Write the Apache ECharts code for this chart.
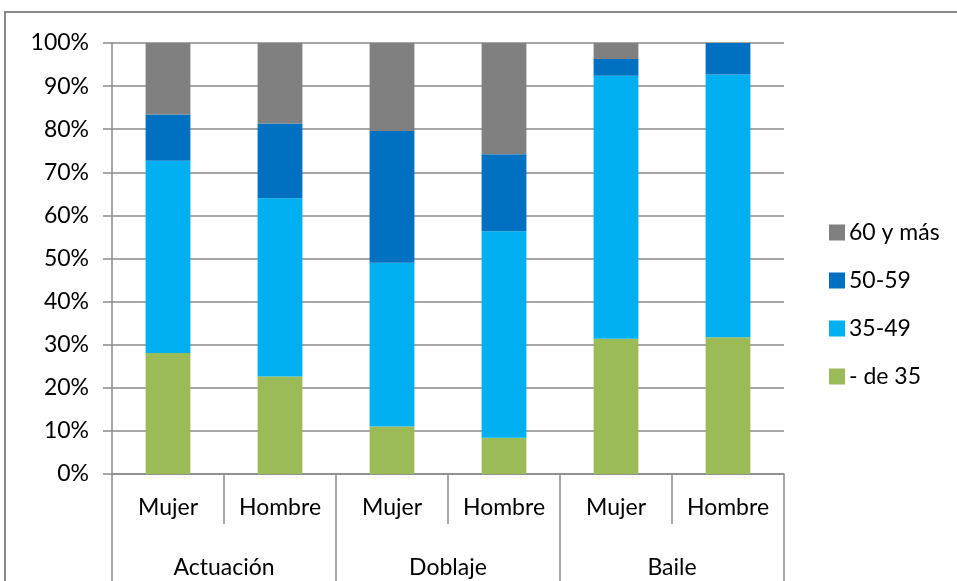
<!DOCTYPE html>
<html>
<head>
<meta charset="utf-8">
<script src="https://cdn.jsdelivr.net/npm/echarts@6/dist/echarts.min.js"></script>
<style>
html,body{margin:0;padding:0;background:#fff;}
#c{width:957px;height:581px;}
</style>
</head>
<body>
<div id="c"></div>
<script>
const subCategories = ['Mujer','Hombre','Mujer','Hombre','Mujer','Hombre'];
const groups = ['Actuación','Doblaje','Baile'];
const yTicks = [0,10,20,30,40,50,60,70,80,90,100];
const seriesNames = ['- de 35','35-49','50-59','60 y más'];
const deMenos35 = [28.1, 22.6, 11.0, 8.4, 31.4, 31.7];
const de35a49   = [44.6, 41.4, 38.0, 47.9, 61.0, 61.0];
const de50a59   = [10.7, 17.3, 30.6, 17.9, 3.9, 7.3];
const de60ymas  = [16.6, 18.7, 20.4, 25.8, 3.7, 0];
const colors = ['#9BBB59','#00B0F0','#0070C0','#808080'];

const font = 'Lato, "Open Sans", sans-serif';
const gray = '#8a8a8a';
const values = [deMenos35, de35a49, de50a59, de60ymas];

const chart = echarts.init(document.getElementById('c'));
chart.setOption({
  animation:false,
  textStyle:{fontFamily:font},
  graphic:[{type:'rect',shape:{x:5,y:12,width:1000,height:1000},style:{fill:'none',stroke:'#888',lineWidth:2},silent:true}],
  grid:{left:112,right:173,top:43,bottom:107},
  legend:{
    orient:'vertical', left:824, top:214,
    itemWidth:16, itemHeight:16, itemGap:21,
    icon:'rect',
    data:['60 y más','50-59','35-49','- de 35'],
    textStyle:{fontFamily:font,fontSize:23,color:'#000',lineHeight:27,padding:[0,0,0,-1]}
  },
  xAxis:[
    {type:'category',data:subCategories,gridIndex:0,position:'bottom',
     axisLine:{show:true,lineStyle:{color:gray,width:1.5}},
     axisTick:{show:true,length:50,lineStyle:{color:gray,width:1.5}},
     axisLabel:{margin:22,fontSize:23,color:'#000',fontFamily:font,interval:0}},
    {type:'category',data:groups,gridIndex:0,position:'bottom',
     axisLine:{show:false},
     axisTick:{show:true,length:110,lineStyle:{color:gray,width:1.5}},
     axisLabel:{margin:82,fontSize:23,color:'#000',fontFamily:font,interval:0}}
  ],
  yAxis:{type:'value',min:yTicks[0],max:yTicks[yTicks.length-1],interval:10,
    axisLine:{show:true,lineStyle:{color:gray,width:1.5}},
    axisTick:{show:true,length:9,lineStyle:{color:gray,width:1.5}},
    splitLine:{show:true,lineStyle:{color:gray,width:1.5}},
    axisLabel:{formatter:'{value}%',fontSize:23,color:'#000',fontFamily:font,margin:23}},
  series: seriesNames.map((n,i)=>({
    name:n,type:'bar',stack:'total',xAxisIndex:0,barWidth:'40%',
    itemStyle:{color:colors[i]},
    data:values[i]
  }))
});
</script>
</body>
</html>
